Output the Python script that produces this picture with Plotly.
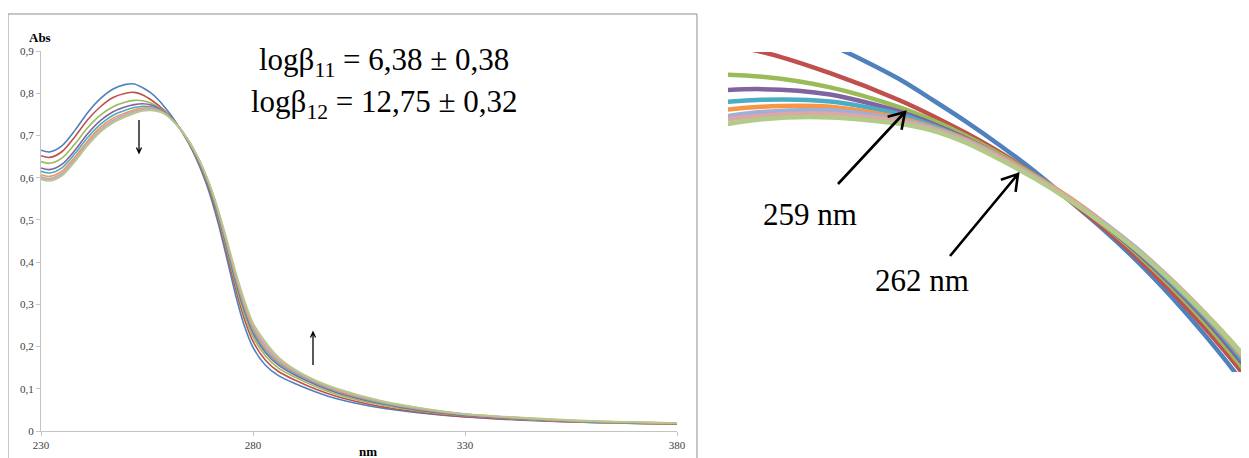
import math
import plotly.graph_objects as go

# ---------------- data ----------------
wavelength_nm = [230, 232, 235, 238, 241, 244, 247, 250, 252, 254, 256, 258, 259, 260, 261, 262, 263, 264,
                 265, 266, 267, 268, 269, 270, 271, 272, 274, 276, 278, 280, 283, 286, 290, 295, 300, 310,
                 320, 330, 345, 360, 380]

abs_1 = [0.665, 0.661, 0.676, 0.712, 0.754, 0.787, 0.810, 0.821, 0.822, 0.813, 0.800, 0.781, 0.769, 0.7565,
         0.743, 0.7285, 0.7125, 0.696, 0.678, 0.658, 0.636, 0.612, 0.585, 0.555, 0.521, 0.484, 0.402, 0.318,
         0.248, 0.198, 0.155, 0.131, 0.112, 0.092, 0.076, 0.055, 0.042, 0.033, 0.025, 0.020, 0.016]
abs_2 = [0.652, 0.648, 0.662, 0.697, 0.737, 0.768, 0.790, 0.800, 0.802, 0.796, 0.784, 0.769, 0.760, 0.750,
         0.739, 0.7265, 0.7125, 0.697, 0.680, 0.661, 0.640, 0.617, 0.591, 0.562, 0.529, 0.493, 0.414, 0.333,
         0.264, 0.212, 0.167, 0.141, 0.120, 0.098, 0.081, 0.058, 0.044, 0.034, 0.026, 0.020, 0.016]
abs_3 = [0.638, 0.634, 0.647, 0.680, 0.718, 0.748, 0.768, 0.779, 0.783, 0.782, 0.776, 0.765, 0.7575, 0.7485,
         0.738, 0.7265, 0.7135, 0.6985, 0.682, 0.6635, 0.643, 0.620, 0.595, 0.567, 0.535, 0.499, 0.422, 0.343,
         0.275, 0.223, 0.177, 0.149, 0.127, 0.104, 0.086, 0.062, 0.046, 0.036, 0.027, 0.021, 0.017]
abs_4 = [0.623, 0.619, 0.632, 0.665, 0.704, 0.735, 0.756, 0.768, 0.773, 0.775, 0.772, 0.7625, 0.7555, 0.747,
         0.737, 0.726, 0.7135, 0.699, 0.683, 0.665, 0.645, 0.6225, 0.598, 0.570, 0.539, 0.504, 0.429, 0.351,
         0.284, 0.232, 0.185, 0.156, 0.132, 0.109, 0.090, 0.065, 0.048, 0.037, 0.028, 0.022, 0.018]
abs_5 = [0.615, 0.611, 0.624, 0.657, 0.695, 0.726, 0.748, 0.760, 0.766, 0.769, 0.768, 0.761, 0.7545, 0.7465,
         0.737, 0.726, 0.7135, 0.6995, 0.684, 0.666, 0.6465, 0.6245, 0.600, 0.573, 0.542, 0.508, 0.434, 0.357,
         0.290, 0.238, 0.190, 0.160, 0.136, 0.112, 0.093, 0.067, 0.050, 0.038, 0.029, 0.022, 0.018]
abs_6 = [0.607, 0.603, 0.616, 0.649, 0.687, 0.719, 0.741, 0.754, 0.761, 0.765, 0.765, 0.759, 0.7535, 0.7465,
         0.737, 0.726, 0.714, 0.700, 0.6845, 0.667, 0.6475, 0.626, 0.6015, 0.575, 0.5445, 0.511, 0.438, 0.362,
         0.295, 0.243, 0.195, 0.164, 0.139, 0.114, 0.095, 0.069, 0.051, 0.039, 0.029, 0.023, 0.018]
abs_7 = [0.602, 0.598, 0.611, 0.644, 0.682, 0.714, 0.736, 0.750, 0.757, 0.762, 0.763, 0.758, 0.753, 0.746,
         0.7365, 0.7255, 0.7135, 0.700, 0.685, 0.6675, 0.648, 0.627, 0.603, 0.5765, 0.5465, 0.5135, 0.441, 0.366,
         0.300, 0.248, 0.200, 0.167, 0.141, 0.116, 0.097, 0.070, 0.052, 0.040, 0.030, 0.023, 0.019]
abs_8 = [0.599, 0.595, 0.608, 0.641, 0.679, 0.711, 0.733, 0.747, 0.755, 0.760, 0.761, 0.757, 0.7525, 0.7455,
         0.736, 0.725, 0.7135, 0.6995, 0.6845, 0.6675, 0.6485, 0.6275, 0.6035, 0.577, 0.547, 0.5145, 0.443, 0.369,
         0.303, 0.251, 0.205, 0.171, 0.143, 0.117, 0.098, 0.071, 0.053, 0.040, 0.030, 0.023, 0.019]
abs_9 = [0.596, 0.592, 0.605, 0.638, 0.676, 0.708, 0.730, 0.744, 0.752, 0.758, 0.759, 0.7555, 0.7515, 0.7445,
         0.735, 0.7245, 0.7125, 0.699, 0.684, 0.667, 0.648, 0.6275, 0.604, 0.578, 0.549, 0.517, 0.447, 0.374,
         0.309, 0.256, 0.210, 0.175, 0.145, 0.119, 0.100, 0.072, 0.054, 0.041, 0.031, 0.024, 0.019]

series = [abs_1, abs_2, abs_3, abs_4, abs_5, abs_6, abs_7, abs_8, abs_9]
series_colors = ["#4F81BD", "#C0504D", "#9BBB59", "#8064A2", "#4BACC6", "#F79646",
                 "#A0AFD8", "#DDA7A5", "#B3CB88"]

x_ticks = [230, 280, 330, 380]
y_ticks = [0, 0.1, 0.2, 0.3, 0.4, 0.5, 0.6, 0.7, 0.8, 0.9]
y_tick_text = ["0", "0,1", "0,2", "0,3", "0,4", "0,5", "0,6", "0,7", "0,8", "0,9"]

beta_text = ["logβ<sub>11</sub> = 6,38 ± 0,38", "logβ<sub>12</sub> = 12,75 ± 0,32"]
iso_labels = ["259 nm", "262 nm"]

# ---------------- layout helpers ----------------
# the page body has an 8 px margin, so the figure is 8 px smaller and all
# screen positions below are shifted by that offset
OFF = 8
W, H = 1249 - OFF, 458 - OFF
def px(x):
    return (x - OFF) / W
def py(y):
    return 1 - (y - OFF) / H

SERIF = "Liberation Serif, Times New Roman, serif"

fig = go.Figure()
for vals, col in zip(series, series_colors):
    fig.add_trace(go.Scatter(x=wavelength_nm, y=vals, mode="lines",
                             line=dict(color=col, width=1.6, shape="spline", smoothing=0.8),
                             xaxis="x", yaxis="y", showlegend=False, hoverinfo="skip"))
for vals, col in zip(series, series_colors):
    fig.add_trace(go.Scatter(x=wavelength_nm, y=vals, mode="lines",
                             line=dict(color=col, width=4.5, shape="spline", smoothing=0.8),
                             xaxis="x2", yaxis="y2", showlegend=False, hoverinfo="skip"))

axis_grey = "#c4c4c4"
tickfont = dict(family=SERIF, size=11, color="#404040")

fig.update_layout(
    template="none",
    width=W, height=H,
    margin=dict(l=0, r=0, t=0, b=0, pad=0),
    paper_bgcolor="white", plot_bgcolor="white",
    xaxis=dict(domain=[px(41), px(677)], range=[230, 380], tickvals=x_ticks,
               showline=True, linecolor=axis_grey, linewidth=1, ticks="outside", ticklen=4,
               tickcolor=axis_grey, showgrid=False, zeroline=False, tickfont=tickfont,
               anchor="y", automargin=False, fixedrange=True),
    yaxis=dict(domain=[py(431), py(51)], range=[0, 0.9], tickvals=y_ticks, ticktext=y_tick_text,
               showline=True, linecolor=axis_grey, linewidth=1, ticks="outside", ticklen=4,
               tickcolor=axis_grey, showgrid=False, zeroline=False, tickfont=tickfont,
               anchor="x", automargin=False, fixedrange=True),
    xaxis2=dict(domain=[px(728), 1.0], range=[253, 268.3], visible=False, anchor="y2",
                automargin=False),
    yaxis2=dict(domain=[py(372), py(52)], range=[0.615, 0.796], visible=False, anchor="x2",
                automargin=False),
)

shapes = []
# frame around the left chart
shapes.append(dict(type="rect", xref="paper", yref="paper",
                   x0=px(8), x1=px(697), y0=-0.05, y1=py(14),
                   line=dict(color="#8f8f8f", width=1), fillcolor="rgba(0,0,0,0)"))

def arrow_path(x0, y0, x1, y1, head, angle_deg=30):
    """open arrow from screen point (x0,y0) to tip (x1,y1), as a paper-coordinate path"""
    ang = math.atan2(y1 - y0, x1 - x0)
    a = math.radians(angle_deg)
    hx1 = x1 - head * math.cos(ang - a)
    hy1 = y1 - head * math.sin(ang - a)
    hx2 = x1 - head * math.cos(ang + a)
    hy2 = y1 - head * math.sin(ang + a)
    pts = lambda x, y: f"{px(x):.5f},{py(y):.5f}"
    return (f"M{pts(x0, y0)} L{pts(x1, y1)} M{pts(hx1, hy1)} L{pts(x1, y1)} L{pts(hx2, hy2)}")

def add_arrow(x0, y0, x1, y1, head, width, angle=30):
    shapes.append(dict(type="path", xref="paper", yref="paper",
                       path=arrow_path(x0, y0, x1, y1, head, angle),
                       line=dict(color="black", width=width)))

add_arrow(139, 120, 139, 153, 6, 1.3, 25)
add_arrow(313, 365, 313, 332, 6, 1.3, 25)
add_arrow(838, 184, 905, 112, 18, 2.6, 32)
add_arrow(950, 256, 1018, 174, 18, 2.6, 32)
fig.update_layout(shapes=shapes)

def label(x, y, text, size, bold=False):
    return dict(x=px(x), y=py(y), xref="paper", yref="paper", xanchor="center", yanchor="middle",
                text=f"<b>{text}</b>" if bold else text, showarrow=False,
                font=dict(family=SERIF, size=size, color="black"))

ann = [
    label(40, 38, "Abs", 13, bold=True),
    label(368, 451, "nm", 13, bold=True),
    label(384, 62, beta_text[0], 31),
    label(384, 104, beta_text[1], 31),
    label(810, 214, iso_labels[0], 31),
    label(922, 280, iso_labels[1], 31),
]
fig.update_layout(annotations=ann)

fig.write_html("out.html")
